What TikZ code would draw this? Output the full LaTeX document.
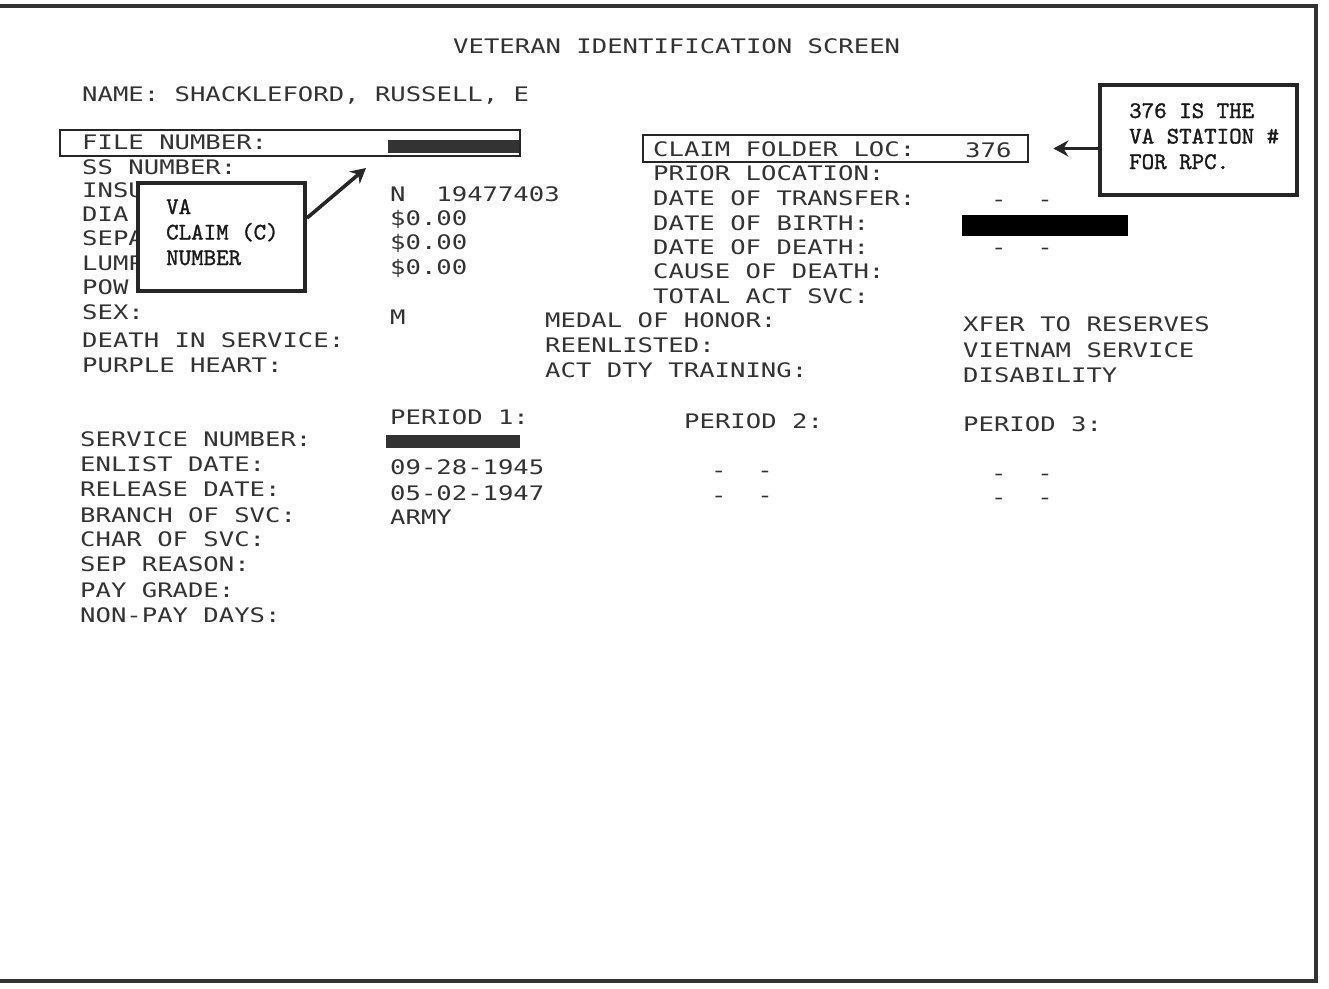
\documentclass[tikz,border=0pt]{standalone}
\usepackage{fontspec}
\newfontfamily\scrfont[FakeStretch=1.28]{DejaVu Sans Mono}
\newfontfamily\notefont[Extension=.otf,FakeBold=1.2,FakeStretch=1.0]{lmmono10-regular}
\usetikzlibrary{arrows.meta,calc}
\tikzset{
  scr/.style={font=\fontsize{20}{24}\selectfont\scrfont, text=black!80, inner sep=0pt, anchor=base west},
  notebox/.style={draw=black!85, line width=4pt, fill=white, inner sep=0pt},
  notetext/.style={font=\fontsize{23.8}{25.5}\selectfont\notefont, align=left, text=black!90, inner sep=0pt, anchor=base west},
  hilite/.style={draw=black!85, line width=2.6pt, inner sep=0pt},
  arr/.style={draw=black!85, line width=3.6pt, -{Stealth[length=15pt,width=16pt]}},
  frame/.style={draw=black!80, line width=3.5pt},
  redact/.style={fill=black!80}
}
\begin{document}
\begin{tikzpicture}[x=1pt,y=-1pt]
\useasboundingbox (0,0) rectangle (1329,988);
\fill[white] (0,0) rectangle (1329,988);
% page frame
\draw[frame] (0,6) -- (1316,6) -- (1316,981) -- (0,981);

% title and name
\node[scr] (title) at (453,53) {VETERAN IDENTIFICATION SCREEN};
\node[scr] (name) at (82,101) {NAME: SHACKLEFORD, RUSSELL, E};

% left column labels
\node[scr] (fileno) at (82,149) {FILE NUMBER:};
\node[scr] (ssno) at (82,174) {SS NUMBER:};
\node[scr] (insu) at (82,197) {INSU};
\node[scr] (diag) at (82,221) {DIA};
\node[scr] (sepa) at (82,245) {SEPA};
\node[scr] (lump) at (82,270) {LUMP};
\node[scr] (pow) at (82,294) {POW};
\node[scr] (sex) at (82,319) {SEX:};
\node[scr] (dis) at (82,347) {DEATH IN SERVICE:};
\node[scr] (ph) at (82,372) {PURPLE HEART:};

% left column values
\fill[redact] (388,140) rectangle (520,153);
\node[scr] (insv) at (390,201) {N\ \ 19477403};
\node[scr] (v1) at (390,225) {\$0.00};
\node[scr] (v2) at (390,249) {\$0.00};
\node[scr] (v3) at (390,274) {\$0.00};
\node[scr] (sexv) at (390,324) {M};

% right column
\node[scr] (cfl) at (653,156) {CLAIM FOLDER LOC:};
\node[scr] (cflv) at (965,157) {376};
\node[scr] (prior) at (653,180) {PRIOR LOCATION:};
\node[scr] (dot) at (653,205) {DATE OF TRANSFER:};
\node[scr] (dotv) at (991,206) {-\ \ -};
\node[scr] (dob) at (653,230) {DATE OF BIRTH:};
\fill[black] (962,215) rectangle (1128,236);
\node[scr] (dod) at (653,254) {DATE OF DEATH:};
\node[scr] (dodv) at (991,254) {-\ \ -};
\node[scr] (cod) at (653,278) {CAUSE OF DEATH:};
\node[scr] (tas) at (653,303) {TOTAL ACT SVC:};

% middle and far right
\node[scr] (moh) at (545,327) {MEDAL OF HONOR:};
\node[scr] (reen) at (545,352) {REENLISTED:};
\node[scr] (adt) at (545,377) {ACT DTY TRAINING:};
\node[scr] (xfer) at (963,331) {XFER TO RESERVES};
\node[scr] (viet) at (963,357) {VIETNAM SERVICE};
\node[scr] (disab) at (963,382) {DISABILITY};

% periods
\node[scr] (p1) at (390,424) {PERIOD 1:};
\node[scr] (p2) at (684,428) {PERIOD 2:};
\node[scr] (p3) at (963,431) {PERIOD 3:};
\node[scr] (svcno) at (80,446) {SERVICE NUMBER:};
\fill[redact] (386,435) rectangle (520,448);
\node[scr] (enl) at (80,471) {ENLIST DATE:};
\node[scr] (enl1) at (390,474) {09-28-1945};
\node[scr] (enl2) at (711,477) {-\ \ -};
\node[scr] (enl3) at (991,480) {-\ \ -};
\node[scr] (rel) at (80,496) {RELEASE DATE:};
\node[scr] (rel1) at (390,500) {05-02-1947};
\node[scr] (rel2) at (711,502) {-\ \ -};
\node[scr] (rel3) at (991,504) {-\ \ -};
\node[scr] (br) at (80,522) {BRANCH OF SVC:};
\node[scr] (br1) at (390,524) {ARMY};
\node[scr] (char) at (80,546) {CHAR OF SVC:};
\node[scr] (sep) at (80,571) {SEP REASON:};
\node[scr] (pay) at (80,597) {PAY GRADE:};
\node[scr] (npd) at (80,622) {NON-PAY DAYS:};

% highlight boxes
\node[hilite, minimum width=460pt, minimum height=26pt] (fbox) at (290,143) {};
\node[hilite, minimum width=385pt, minimum height=27pt] (cfbox) at (835.5,148.5) {};

% callouts
\node[notebox, minimum width=167pt, minimum height=108pt] (vabox) at (221.5,237) {};
\node[notetext] (vatext) at (166,265) {VA\\CLAIM (C)\\NUMBER};
\node[notebox, minimum width=197pt, minimum height=110pt] (rbox) at (1198.5,140) {};
\node[notetext] (rtext) at (1129,169) {376 IS THE\\VA STATION \#\\FOR RPC.};

% arrows
\coordinate (vatip) at (366,168);
\draw[arr] ($(vabox.east)+(0,-19)$) -- (vatip);
\draw[arr] (rbox.west |- cfbox.east) -- ($(cfbox.east)+(24,0)$);
\end{tikzpicture}
\end{document}
